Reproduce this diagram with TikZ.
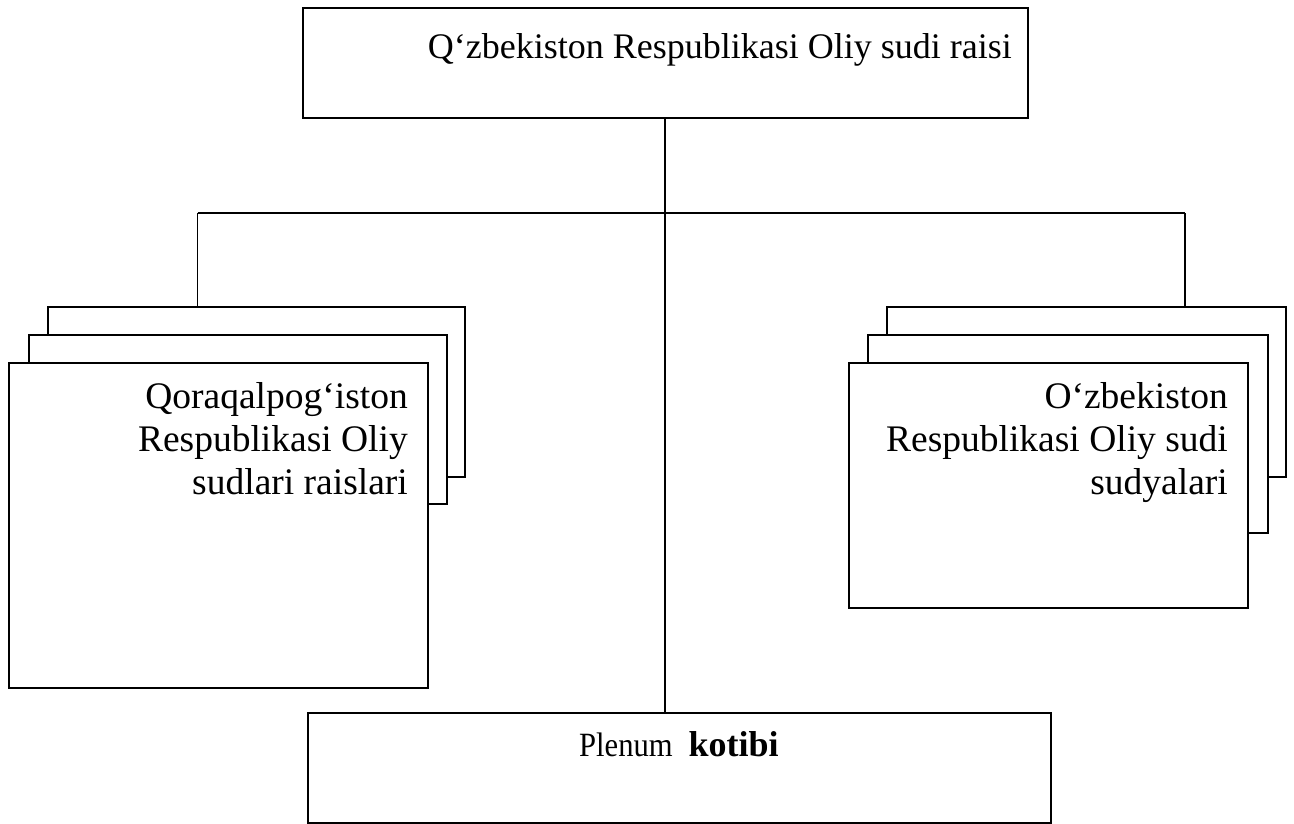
\documentclass[tikz,border=0pt]{standalone}
\usepackage{fontspec}
\setmainfont{Liberation Serif}
\begin{document}
\begin{tikzpicture}[x=1pt,y=-1pt,
  box/.style={draw, line width=2pt, fill=white, inner sep=0pt, anchor=north west},
  conn/.style={line width=1.6pt},
  lbl/.style={font=\fontsize{36}{43}\selectfont, inner sep=0pt, align=right},
  sidelbl/.style={font=\fontsize{37.5}{43}\selectfont, inner sep=0pt, align=right}]
\useasboundingbox (0,0) rectangle (1294,823);
% boxes
\node[box, minimum width=725pt, minimum height=110pt] (top) at (302,7) {};
\node[box, minimum width=743pt, minimum height=110pt] (bot) at (307,712) {};
\node[box, minimum width=417pt, minimum height=170pt] (lb1) at (47,306) {};
\node[box, minimum width=418pt, minimum height=169pt] (lb2) at (28,334) {};
\node[box, minimum width=419pt, minimum height=325pt] (lb3) at (8,362) {};
\node[box, minimum width=399pt, minimum height=170pt] (rb1) at (886,306) {};
\node[box, minimum width=400pt, minimum height=198pt] (rb2) at (867,334) {};
\node[box, minimum width=399pt, minimum height=245pt] (rb3) at (848,362) {};
% connectors
\coordinate (jc) at (665,213);
\coordinate (jl) at (197.5,213);
\coordinate (jr) at (1185,213);
\draw[conn] (top.south -| jc) -- (bot.north -| jc);
\draw[conn] (jl) -- (jr);
\draw[conn] (jl) -- (lb1.north -| jl);
\draw[conn] (jr) -- (rb1.north -| jr);
% texts
\node[lbl, anchor=base east] (ttop) at (1012,58) {Q‘zbekiston Respublikasi Oliy sudi raisi};
\node[sidelbl, anchor=north east] (tl) at (408,382.5) {Qoraqalpog‘iston\\Respublikasi Oliy\\sudlari raislari};
\node[sidelbl, anchor=north east] (tr) at (1228,382.5) {O‘zbekiston\\Respublikasi Oliy sudi\\sudyalari};
\node[inner sep=0pt, anchor=base west] (tb) at (579,756) {\scalebox{0.9}[1]{\fontsize{34}{40}\selectfont Plenum}\hspace{16pt}\fontsize{36}{43}\selectfont\bfseries kotibi};
\end{tikzpicture}
\end{document}
